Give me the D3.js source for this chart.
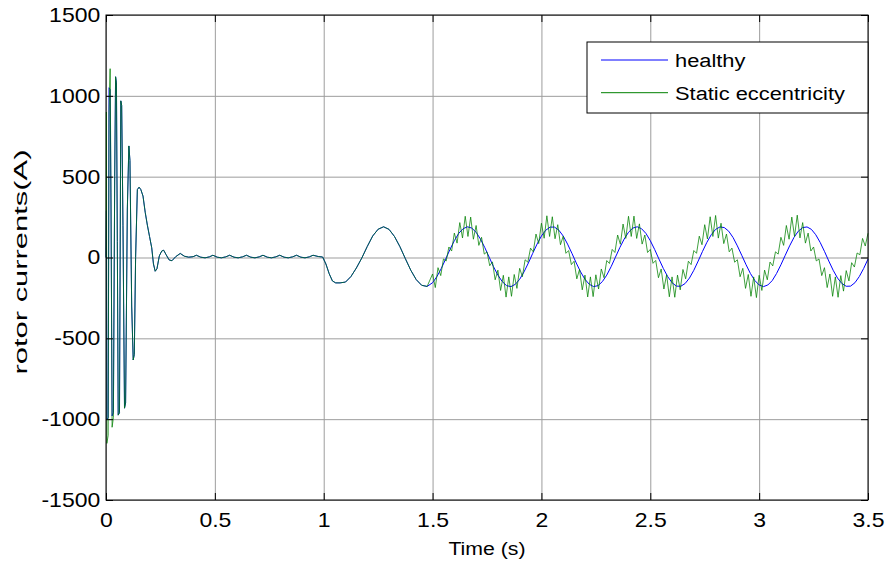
<!DOCTYPE html>
<html lang="en">
<head>
<meta charset="UTF-8">
<title>rotor currents</title>
<style>
  body { margin: 0; background: #fff; }
  text { font-family: "Liberation Sans", Arial, sans-serif; fill: #000; }
</style>
</head>
<body>
<svg width="890" height="562"></svg>
<script src="https://cdn.jsdelivr.net/npm/d3@7/dist/d3.min.js"></script>
<script>
// tick values
var xTicks = [0, 0.5, 1, 1.5, 2, 2.5, 3, 3.5];
var yTicks = [-1500, -1000, -500, 0, 500, 1000, 1500];
var seriesNames = ["healthy", "Static eccentricity"];

// start-up transient (s, A)
var transientTime = [0, 0.002, 0.004, 0.010, 0.014, 0.019, 0.023, 0.028, 0.034, 0.040,
  0.044, 0.048, 0.052, 0.056, 0.062, 0.068, 0.072, 0.078, 0.085, 0.090,
  0.098, 0.105, 0.110, 0.118, 0.125, 0.130, 0.136, 0.144, 0.152, 0.160];
var healthyTransient = [0, 290, -1000, -990, 1050, 1040, 300, -980, -960, 500,
  1118, 1080, 100, -975, -960, 969, 940, 200, -932, -900,
  300, 690, 600, -300, -634, -600, 0, 420, 435, 420];
var eccentricTransient = [0, 900, -1150, -1100, 900, 1168, 400, -1050, -990, 500,
  1118, 1080, 100, -975, -960, 969, 940, 200, -932, -900,
  300, 690, 600, -300, -634, -600, 0, 420, 435, 420];

// part where both curves coincide (s, A)
var sharedTime = [0.170, 0.180, 0.190, 0.200, 0.210, 0.218, 0.226, 0.234, 0.245, 0.256,
  0.265, 0.275, 0.290, 0.303, 0.320, 0.341, 0.360, 0.380, 0.400, 0.415,
  0.435, 0.455, 0.475, 0.491, 0.511, 0.530, 0.550, 0.568, 0.588, 0.607,
  0.627, 0.645, 0.665, 0.684, 0.704, 0.721, 0.741, 0.760, 0.780, 0.798,
  0.818, 0.837, 0.857, 0.875, 0.895, 0.914, 0.934, 0.951, 0.975, 0.995,
  1.010, 1.025, 1.040, 1.055, 1.075, 1.100, 1.125, 1.150, 1.175, 1.200,
  1.225, 1.250, 1.275, 1.300, 1.325, 1.350, 1.375, 1.400, 1.425, 1.450, 1.475];
var sharedCurrent = [380, 280, 200, 130, 60, -40, -85, -70, 10, 40,
  45, 20, -15, -20, 5, 25, 8, 2, 5, 14,
  2, -2, 4, 14, 2, -2, 4, 14, 2, -2,
  4, 14, 2, -2, 4, 14, 2, -2, 4, 14,
  2, -2, 4, 14, 2, -2, 4, 14, 6, 3,
  -40, -100, -145, -157, -157, -152, -118, -65, -3, 68,
  133, 175, 190, 174, 130, 67, -7, -79, -137, -172, -179];

// steady state from 1.5 s
var steadyStart = 1.5;
var healthyStep = 0.02;
var healthySteady = [-156, -118, -68, -10, 50, 104, 149, 178, 190, 182,
  156, 114, 61, 2, -57, -109, -149, -174, -180, -166,
  -135, -89, -34, 26, 83, 133, 169, 188, 188, 169,
  133, 83, 26, -34, -89, -135, -166, -180, -174, -149,
  -109, -57, 2, 61, 114, 156, 182, 190, 178, 149,
  104, 50, -10, -68, -118, -156, -177, -178, -161, -127,
  -79, -22, 38, 94, 141, 174, 189, 185, 163, 124,
  72, 14, -45, -99, -142, -170, -180, -170, -143, -99,
  -45, 14, 72, 124, 163, 185, 189, 174, 141, 94,
  38, -22, -79, -127, -161, -178, -177, -156, -118, -68,
  -10];
var eccentricStep = 0.0125;
var eccentricSteady = [-102, -186, -63, -112, -9, -22, 65, 40, 151, 89,
  216, 121, 255, 130, 250, 113, 198, 75, 125, 21,
  35, -51, -27, -138, -78, -204, -110, -245, -120, -240,
  -105, -191, -67, -119, -14, -29, 58, 35, 145, 86,
  212, 119, 258, 130, 252, 116, 203, 79, 132, 26,
  43, -44, -23, -132, -74, -200, -109, -244, -120, -242,
  -107, -195, -71, -125, -19, -37, 50, 31, 139, 82,
  207, 118, 255, 130, 256, 118, 208, 83, 139, 31,
  50, -36, -18, -125, -71, -195, -107, -243, -120, -246,
  -109, -200, -74, -132, -23, -44, 43, 26, 132, 79,
  203, 115, 252, 130, 260, 120, 212, 86, 145, 35,
  58, -29, -14, -119, -67, -191, -105, -240, -120, -248,
  -110, -204, -78, -138, -28, -52, 35, 21, 125, 75,
  198, 113, 250, 130, 262, 121, 216, 89, 151, 40,
  65, -21, -9, -112, -63, -186, -102, -240, -120, -246,
  -112, -208, -81, -145, -32, -59, 28, 17, 118, 71,
  150];

var svg = d3.select("svg");
var plotLeft = 106, plotRight = 868, plotTop = 15, plotBottom = 500;

var x = d3.scaleLinear().domain([0, 3.5]).range([plotLeft, plotRight]);
var y = d3.scaleLinear().domain([-1500, 1500]).range([plotBottom, plotTop]);

// grid
svg.append("g")
  .attr("transform", "translate(0," + plotBottom + ")")
  .call(d3.axisBottom(x).tickValues(xTicks).tickSize(-(plotBottom - plotTop)).tickFormat(""))
  .call(function(g) { g.select(".domain").remove(); })
  .selectAll("line").attr("stroke", "#9d9d9d");
svg.append("g")
  .attr("transform", "translate(" + plotLeft + ",0)")
  .call(d3.axisLeft(y).tickValues(yTicks).tickSize(-(plotRight - plotLeft)).tickFormat(""))
  .call(function(g) { g.select(".domain").remove(); })
  .selectAll("line").attr("stroke", "#9d9d9d");

function build(transient, steady, step) {
  var pts = transientTime.map(function(t, i) { return [t, transient[i]]; });
  sharedTime.forEach(function(t, i) { pts.push([t, sharedCurrent[i]]); });
  steady.forEach(function(v, i) { pts.push([steadyStart + i * step, v]); });
  return pts;
}

var line = d3.line()
  .x(function(d) { return x(d[0]); })
  .y(function(d) { return y(d[1]); });

svg.append("path")
  .datum(build(healthyTransient, healthySteady, healthyStep))
  .attr("d", line)
  .attr("fill", "none")
  .attr("stroke", "#0000ff")
  .attr("stroke-width", 1);

svg.append("path")
  .datum(build(eccentricTransient, eccentricSteady, eccentricStep))
  .attr("d", line)
  .attr("fill", "none")
  .attr("stroke", "#008000")
  .attr("stroke-opacity", 0.75)
  .attr("stroke-width", 1);

// box and inward ticks
function ticks(axis, tx, ty) {
  svg.append("g")
    .attr("transform", "translate(" + tx + "," + ty + ")")
    .call(axis.tickSize(-7).tickFormat(""))
    .call(function(g) { g.select(".domain").remove(); })
    .selectAll("line").attr("stroke", "#000");
}
ticks(d3.axisBottom(x).tickValues(xTicks), 0, plotBottom);
ticks(d3.axisTop(x).tickValues(xTicks), 0, plotTop);
ticks(d3.axisLeft(y).tickValues(yTicks), plotLeft, 0);
ticks(d3.axisRight(y).tickValues(yTicks), plotRight, 0);

svg.append("rect")
  .attr("x", plotLeft).attr("y", plotTop)
  .attr("width", plotRight - plotLeft).attr("height", plotBottom - plotTop)
  .attr("fill", "none").attr("stroke", "#000");

// tick labels
var xAxis = svg.append("g")
  .attr("transform", "translate(0," + plotBottom + ")")
  .call(d3.axisBottom(x).tickValues(xTicks).tickSize(0).tickPadding(13)
    .tickFormat(function(d) { return String(d); }));
xAxis.select(".domain").remove();
xAxis.selectAll("text")
  .attr("font-size", 20)
  .attr("font-family", "Liberation Sans, Arial, sans-serif")
  .attr("transform", "scale(1.15,1)");

var yAxis = svg.append("g")
  .attr("transform", "translate(" + plotLeft + ",0)")
  .call(d3.axisLeft(y).tickValues(yTicks).tickSize(0).tickPadding(5)
    .tickFormat(function(d) { return String(d); }));
yAxis.select(".domain").remove();
yAxis.selectAll("text")
  .attr("font-size", 20)
  .attr("font-family", "Liberation Sans, Arial, sans-serif")
  .attr("transform", "scale(1.15,1)");

// axis titles
svg.append("text")
  .attr("transform", "translate(" + (plotLeft + plotRight) / 2 + ",555) scale(1.12,1)")
  .attr("text-anchor", "middle")
  .attr("font-size", 19)
  .text("Time (s)");

svg.append("text")
  .attr("transform", "translate(27,262) rotate(-90)")
  .attr("text-anchor", "middle")
  .attr("font-size", 19)
  .attr("textLength", 225)
  .attr("lengthAdjust", "spacingAndGlyphs")
  .text("rotor currents(A)");

// legend
var legend = svg.append("g");
legend.append("rect")
  .attr("x", 587).attr("y", 42)
  .attr("width", plotRight - 587).attr("height", 71)
  .attr("fill", "#fff").attr("stroke", "#000");
var legendColors = ["#0000ff", "#008000"];
seriesNames.forEach(function(name, i) {
  var ly = 60 + i * 32.7;
  legend.append("line")
    .attr("x1", 601).attr("x2", 668)
    .attr("y1", ly).attr("y2", ly)
    .attr("stroke", legendColors[i]).attr("stroke-width", 1);
  legend.append("text")
    .attr("transform", "translate(675," + (ly + 7) + ") scale(1.15,1)")
    .attr("font-size", 19)
    .text(name);
});
</script>
</body>
</html>
